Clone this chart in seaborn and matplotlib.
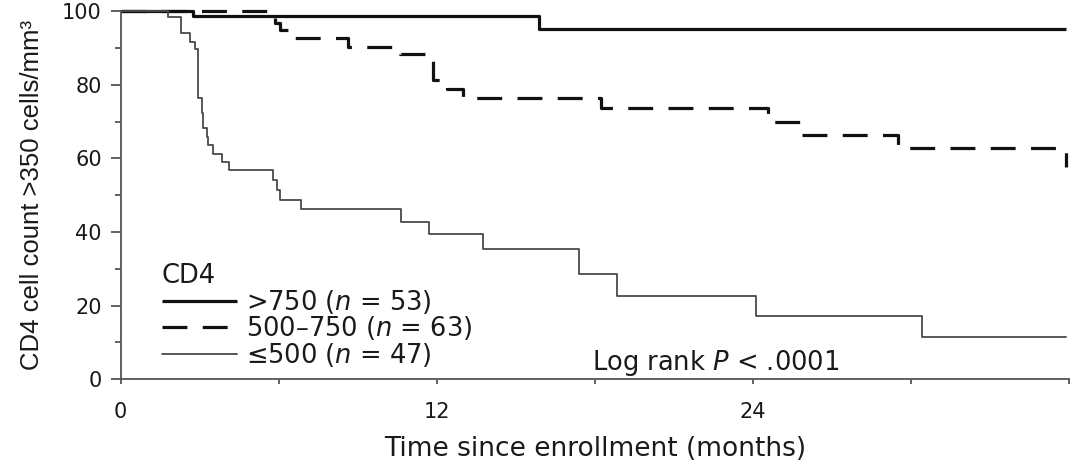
import matplotlib
matplotlib.use("Agg")
import matplotlib.pyplot as plt
import seaborn as sns

# ---------------- data ----------------
# months since enrollment / % with CD4 > 350 cells/mm3 (value after each step)
hi_time = [0, 2.74, 15.87, 35.9]
hi_pct = [100, 98.8, 95.2, 95.2]

mid_time = [0, 5.67, 5.86, 6.05, 6.54, 8.63, 10.60, 11.85, 12.37, 12.99,
            18.25, 24.58, 25.78, 29.51, 35.90]
mid_pct = [100, 98.8, 96.9, 95.0, 92.7, 90.4, 88.4, 81.4, 78.8, 76.4,
           73.7, 70.0, 66.4, 62.8, 57.8]

low_time = [0, 1.81, 2.28, 2.63, 2.82, 2.94, 3.07, 3.13, 3.26, 3.32, 3.51,
            3.83, 4.12, 5.77, 5.92, 6.05, 6.83, 10.63, 11.70, 13.74, 17.39,
            18.86, 24.10, 30.42, 35.90]
low_pct = [100, 98.4, 94.2, 91.8, 89.7, 76.4, 72.3, 68.2, 65.9, 63.6, 61.2,
           59.1, 56.9, 54.1, 51.4, 48.7, 46.3, 42.8, 39.5, 35.5, 28.6,
           22.7, 17.2, 11.5, 11.5]

group_labels = [">750 ($n$ = 53)", "500\u2013750 ($n$ = 63)", "\u2264500 ($n$ = 47)"]
legend_title = "CD4"
x_ticks = [0, 6, 12, 18, 24, 30, 36]
x_tick_labels = ["0", "", "12", "", "24", "", ""]
y_major = [0, 20, 40, 60, 80, 100]
y_minor = [10, 30, 50, 70, 90]
x_label = "Time since enrollment (months)"
y_label = "CD4 cell count >350 cells/mm\u00b3"
annotation = "Log rank $P$ < .0001"

# ---------------- style ----------------
sns.set_style("ticks")
plt.rcParams["font.family"] = ["DejaVu Sans"]
plt.rcParams["mathtext.fontset"] = "dejavusans"
TXT = "#1a1a1a"
AX = "#555555"

fig = plt.figure(figsize=(10.76, 4.68), dpi=100)
ax = fig.add_axes([0.11217, 0.19017, 0.88132, 0.78526])

common = dict(ax=ax, drawstyle="steps-post", estimator=None, sort=False,
              clip_on=False)
sns.lineplot(x=hi_time, y=hi_pct, color="#111111", linewidth=2.3,
             solid_capstyle="butt", label=group_labels[0], **common)
sns.lineplot(x=mid_time, y=mid_pct, color="#111111", linewidth=2.3,
             linestyle=(0, (7.8, 4.8)), label=group_labels[1], **common)
sns.lineplot(x=low_time, y=low_pct, color="#4a4a4a", linewidth=1.3,
             label=group_labels[2], **common)

ax.set_xlim(0, 36)
ax.set_ylim(0, 100)
ax.set_xticks(x_ticks)
ax.set_xticklabels(x_tick_labels)
ax.set_yticks(y_major)
ax.set_yticks(y_minor, minor=True)

for s in ["top", "right"]:
    ax.spines[s].set_visible(False)
for s in ["left", "bottom"]:
    ax.spines[s].set_color(AX)
    ax.spines[s].set_linewidth(1.3)

ax.tick_params(axis="y", which="major", length=7.2, width=1.3, color=AX,
               pad=6.5, labelsize=15, labelcolor=TXT)
ax.tick_params(axis="y", which="minor", length=4.3, width=1.3, color=AX)
ax.tick_params(axis="x", which="major", length=3.6, width=1.3, color=AX,
               pad=13, labelsize=15, labelcolor=TXT)

ax.set_xlabel(x_label, fontsize=19, color=TXT)
ax.xaxis.set_label_coords(0.5, -0.155)
ax.set_ylabel(y_label, fontsize=18.5, color=TXT, family=["Liberation Sans", "DejaVu Sans"])
ax.yaxis.set_label_coords(-0.081, 0.5)

leg = ax.legend(title=legend_title, loc="upper left",
                bbox_to_anchor=(0.0435, 0.316), frameon=False,
                prop={"size": 18.5}, title_fontproperties={"size": 18.5},
                alignment="left", handlelength=2.92, handletextpad=0.35,
                labelspacing=-0.05, borderpad=0, borderaxespad=0)
for t in leg.get_texts():
    t.set_color(TXT)
leg.get_title().set_color(TXT)

ax.text(0.497, 0.0245, annotation, transform=ax.transAxes, fontsize=18.5,
        va="baseline", ha="left", color=TXT)

fig.savefig("out.png", dpi=100)
